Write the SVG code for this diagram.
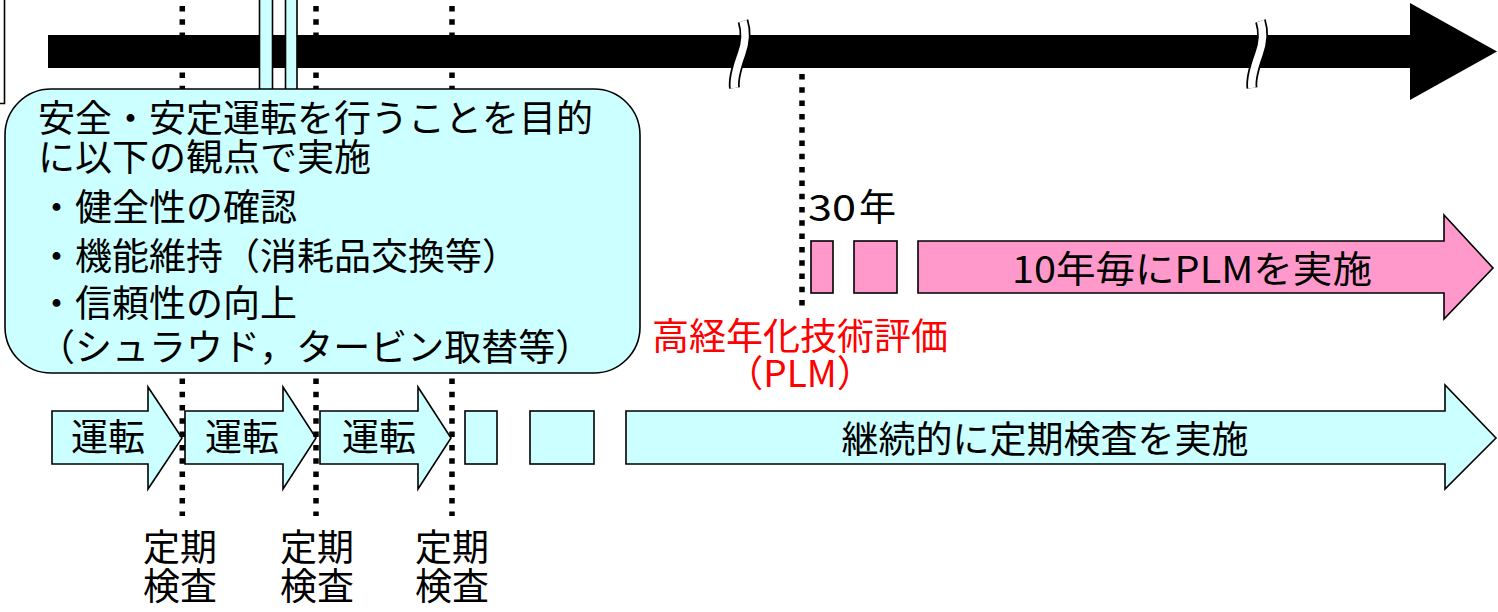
<svg xmlns="http://www.w3.org/2000/svg" width="1498" height="612" viewBox="0 0 1498 612">
<style>
text{font-family:"Noto Sans CJK JP","Noto Sans CJK SC",sans-serif;font-size:37px;fill:#000}
.cy{fill:#ccffff;stroke:#000;stroke-width:1.6}
.pk{fill:#ff99cc;stroke:#000;stroke-width:1.6}
.dot{stroke:#000;stroke-width:5.5;stroke-dasharray:5.5 7.8;fill:none}
.red{fill:#ff0000}
.mid{text-anchor:middle}
</style>
<defs>
<path id="brk" d="M743 21 C746.5 32,745.5 43,741.5 54 S733 78,734.5 88"/>
</defs>
<rect width="1498" height="612" fill="#fff"/>
<!-- left frame fragment -->
<path d="M0 103.5 H4.5 V0" fill="none" stroke="#000" stroke-width="1.6"/>

<!-- operation arrows -->
<g id="op1"><polygon class="cy" points="52,411 148,411 148,387 182,438 148,489 148,464 52,464"/><text class="mid" x="108" y="451">運転</text></g>
<g id="op2"><polygon class="cy" points="185,411 283,411 283,387 316,438 283,489 283,464 185,464"/><text class="mid" x="242" y="451">運転</text></g>
<g id="op3"><polygon class="cy" points="320,411 418,411 418,387 451,438 418,489 418,464 320,464"/><text class="mid" x="379" y="451">運転</text></g>
<g id="insp1"><rect class="cy" x="465" y="411" width="32" height="53"/></g>
<g id="insp2"><rect class="cy" x="530" y="411" width="64" height="53"/></g>
<g id="cont"><polygon class="cy" points="626,411 1445,411 1445,385 1496,438 1445,489 1445,464 626,464"/><text class="mid" x="1045" y="453">継続的に定期検査を実施</text></g>

<!-- PLM -->
<g id="plm1"><rect class="pk" x="811" y="241" width="22" height="52"/></g>
<g id="plm2"><rect class="pk" x="854" y="241" width="43" height="52"/></g>
<g id="plmarrow"><polygon class="pk" points="918,241 1444,241 1444,215 1493,268 1444,319 1444,293 918,293"/><text x="1012" y="283" textLength="360" lengthAdjust="spacingAndGlyphs">10年毎にPLMを実施</text></g>

<!-- connectors: dotted markers -->
<g id="connectors">
<line class="dot" x1="182.3" y1="6" x2="182.3" y2="516"/>
<line class="dot" x1="316" y1="6" x2="316" y2="516"/>
<line class="dot" x1="452" y1="6" x2="452" y2="516"/>
<line class="dot" x1="802" y1="74" x2="802" y2="308"/>
</g>

<!-- timeline -->
<g id="timeline">
<rect x="48" y="35" width="1363" height="33" fill="#000"/>
<polygon points="1410,3 1497,51.5 1410,100" fill="#000"/>
<use href="#brk" stroke="#000" stroke-width="11" fill="none"/>
<use href="#brk" stroke="#fff" stroke-width="7.5" fill="none"/>
<use href="#brk" transform="translate(517.5 0)" stroke="#000" stroke-width="11" fill="none"/>
<use href="#brk" transform="translate(517.5 0)" stroke="#fff" stroke-width="7.5" fill="none"/>
</g>

<!-- cyan strips -->
<g id="strips">
<rect class="cy" x="259.5" y="-3" width="13" height="93"/>
<rect class="cy" x="285.5" y="-3" width="11.5" height="93"/>
</g>

<!-- explanation box -->
<g id="note">
<rect class="cy" x="5" y="89" width="635" height="284" rx="46" ry="46" stroke-width="2"/>
<text x="38" y="132">安全・安定運転を行うことを目的</text>
<text x="38" y="171">に以下の観点で実施</text>
<text x="38" y="221">・健全性の確認</text>
<text x="38" y="270">・機能維持（消耗品交換等）</text>
<text x="38" y="317">・信頼性の向上</text>
<text x="38" y="361">（シュラウド，タービン取替等）</text>
</g>

<g id="labels">
<text x="808" y="221" font-size="39" textLength="48" lengthAdjust="spacingAndGlyphs">30</text>
<text x="859" y="221">年</text>
<text class="mid red" x="800" y="350">高経年化技術評価</text>
<text class="mid red" x="800" y="387">（PLM）</text>
<text class="mid" x="180" y="561">定期</text>
<text class="mid" x="180" y="600">検査</text>
<text class="mid" x="317" y="561">定期</text>
<text class="mid" x="317" y="600">検査</text>
<text class="mid" x="452" y="561">定期</text>
<text class="mid" x="452" y="600">検査</text>
</g>
</svg>
